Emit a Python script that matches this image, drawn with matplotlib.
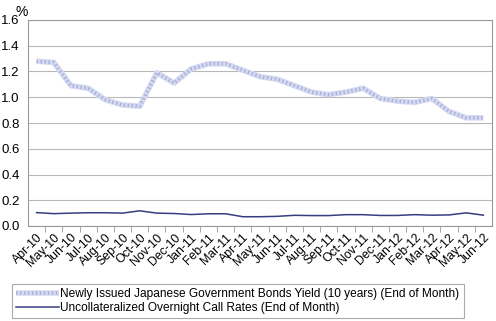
import numpy as np
import matplotlib.pyplot as plt
from matplotlib.lines import Line2D

plt.rcParams['font.family'] = ['Liberation Sans', 'DejaVu Sans']

months = ['Apr-10', 'May-10', 'Jun-10', 'Jul-10', 'Aug-10', 'Sep-10', 'Oct-10',
          'Nov-10', 'Dec-10', 'Jan-11', 'Feb-11', 'Mar-11', 'Apr-11', 'May-11',
          'Jun-11', 'Jul-11', 'Aug-11', 'Sep-11', 'Oct-11', 'Nov-11', 'Dec-11',
          'Jan-12', 'Feb-12', 'Mar-12', 'Apr-12', 'May-12', 'Jun-12']
jgb = [1.28, 1.27, 1.09, 1.07, 0.98, 0.94, 0.93, 1.19, 1.11, 1.22, 1.26, 1.26,
       1.21, 1.16, 1.14, 1.09, 1.04, 1.02, 1.04, 1.07, 0.99, 0.97, 0.96, 0.99,
       0.89, 0.84, 0.84]
call = [0.104, 0.096, 0.100, 0.103, 0.103, 0.100, 0.118, 0.100, 0.097, 0.089,
        0.095, 0.095, 0.072, 0.072, 0.075, 0.083, 0.081, 0.081, 0.088, 0.088,
        0.082, 0.082, 0.088, 0.084, 0.086, 0.102, 0.084]

x = np.arange(len(months))

fig = plt.figure(figsize=(4.96, 3.21), dpi=100)
ax = fig.add_axes([28/496, 1-226/321, 464/496, 206/321])

# JGB line: light band with a dotted darker overlay
band = dict(color='#d6daf1', lw=4.0, solid_capstyle='butt')
dots = dict(color='#a9b1dd', lw=2.6, ls=(0, (0.4, 0.7)))
ax.plot(x, jgb, zorder=3, **band)
ax.plot(x, jgb, zorder=4, **dots)
ax.plot(x, call, color='#383d80', lw=1.1, zorder=4)

ax.set_xlim(-0.5, len(months) - 0.5)
ax.set_ylim(0, 1.6)
ax.set_yticks(np.arange(0, 1.61, 0.2))
ax.set_yticklabels(['%.1f' % v for v in np.arange(0, 1.61, 0.2)], fontsize=9.5)
ax.tick_params(axis='y', length=0, pad=6)
ax.grid(axis='y', color='#b8b8b8', lw=0.8)
ax.set_axisbelow(True)

ax.set_xticks(x)
ax.set_xticklabels(months, rotation=45, ha='right', rotation_mode='anchor', fontsize=8.8)
ax.set_xticks(np.arange(0.5, len(months) - 0.5), minor=True)
ax.tick_params(axis='x', which='major', length=0, pad=4)
ax.tick_params(axis='x', which='minor', length=4, color='#999999', direction='out')

for s in ax.spines.values():
    s.set_color('#999999')
    s.set_linewidth(0.8)

fig.text(22/496, 1-12/321, '%', fontsize=10, ha='center', va='center')

h1 = (Line2D([], [], **band), Line2D([], [], **dots))
h2 = Line2D([], [], color='#383d80', lw=1.1)
leg = fig.legend([h1, h2],
                 ['Newly Issued Japanese Government Bonds Yield (10 years) (End of Month)',
                  'Uncollateralized Overnight Call Rates (End of Month)'],
                 loc='lower left', bbox_to_anchor=(12/496, 3/321), fontsize=8.6,
                 fancybox=False, edgecolor='#aaaaaa', framealpha=1,
                 handlelength=3.6, handletextpad=0.1, labelspacing=0.15,
                 borderpad=0.35, borderaxespad=0)
leg.get_frame().set_linewidth(0.8)

fig.savefig('out.png', dpi=100)
